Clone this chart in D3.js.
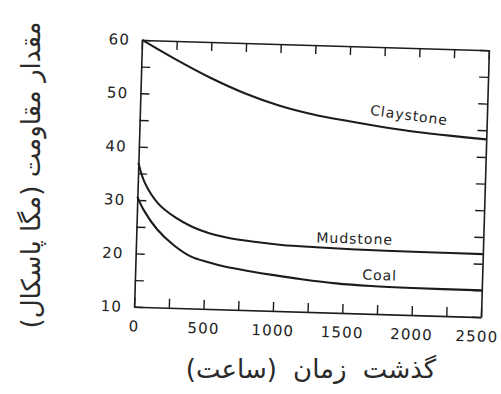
<!DOCTYPE html>
<html>
<head>
<meta charset="utf-8">
<script src="https://cdn.jsdelivr.net/npm/d3@7"></script>
<style>
  body { margin: 0; background: #fff; }
  svg { display: block; }
  .tick text { font-family: "DejaVu Sans"; font-size: 15px; letter-spacing: 1.2px; fill: #222; }
  .curvelabel { font-family: "DejaVu Sans"; font-size: 14px; letter-spacing: 1px; fill: #222; }
  .title { font-family: "DejaVu Sans"; fill: #2a2a2a; }
</style>
</head>
<body>
<div id="chart"></div>
<script>
// hours elapsed vs strength (MPa)
const clayHours = [0, 250, 500, 750, 1000, 1250, 1500, 1750, 2000, 2250, 2500];
const clayMPa   = [60, 56.5, 53.3, 50.6, 48.5, 47.0, 45.95, 45.05, 44.3, 43.75, 43.3];
const mudHours  = [0, 50, 150, 275, 400, 525, 650, 850, 1050, 1300, 1550, 1800, 2100, 2500];
const mudMPa    = [37, 33.3, 29.5, 27.0, 25.3, 24.2, 23.5, 22.85, 22.4, 22.15, 21.97, 21.9, 21.85, 21.8];
const coalHours = [0, 50, 150, 275, 400, 525, 650, 825, 1000, 1200, 1450, 1700, 2000, 2500];
const coalMPa   = [30.6, 28.1, 24.6, 21.7, 19.7, 18.75, 18.0, 17.3, 16.7, 16.1, 15.5, 15.2, 15.05, 15.0];

const xTicks = [0, 250, 500, 750, 1000, 1250, 1500, 1750, 2000, 2250, 2500];
const xLabels = [0, 500, 1000, 1500, 2000, 2500];
const yTicks = [10, 15, 20, 25, 30, 35, 40, 45, 50, 55, 60];
const yLabels = [10, 20, 30, 40, 50, 60];

const curveNames = ["Claystone", "Mudstone", "Coal"];
const labelHours = [1940, 1574, 1762];
const labelMPa = [47.4, 24.0, 17.3];

const yTitle = "مقدار مقاومت (مگا پاسکال)";
const xTitle = "گذشت زمان (ساعت)";

let width = 501, height = 394;
let plotLeft = 138, plotRight = 485, plotTop = 45, plotBottom = 312;
let cx = (plotLeft + plotRight) / 2, cy = (plotTop + plotBottom) / 2;

let svg = d3.select("#chart")
    .append("svg")
    .attr("width", width)
    .attr("height", height);

let x = d3.scaleLinear().domain([0, 2500]).range([plotLeft, plotRight]);
let y = d3.scaleLinear().domain([10, 60]).range([plotBottom, plotTop]);

// the scan is a little tilted, so the plot is too
let g = svg.append("g").attr("transform", "rotate(1.7," + cx + "," + cy + ")");

let ink = "#1c1c1c";

g.append("g")
    .attr("transform", "translate(0," + plotBottom + ")")
    .call(d3.axisBottom(x).tickValues(xTicks).tickSize(-9).tickSizeOuter(0).tickPadding(14)
      .tickFormat(function(d){ return xLabels.indexOf(d) >= 0 ? d : ""; }))
  .selectAll(".tick text")
    .attr("dx", function(d){ return d == 2500 ? -4 : 0; });

g.append("g")
    .attr("transform", "translate(0," + plotTop + ")")
    .call(d3.axisTop(x).tickValues(xTicks).tickSize(-9).tickSizeOuter(0).tickFormat(""));

g.append("g")
    .attr("transform", "translate(" + plotLeft + ",0)")
    .call(d3.axisLeft(y).tickValues(yTicks).tickSize(-9).tickSizeOuter(0).tickPadding(12)
      .tickFormat(function(d){ return yLabels.indexOf(d) >= 0 ? d : ""; }));

g.append("g")
    .attr("transform", "translate(" + plotRight + ",0)")
    .call(d3.axisRight(y).tickValues(yTicks).tickSize(-9).tickSizeOuter(0).tickFormat(""));

g.selectAll(".domain").attr("stroke", ink).attr("stroke-width", 1.6);
g.selectAll(".tick line").attr("stroke", ink).attr("stroke-width", 1.4);

let line = d3.line()
    .x(function(d){ return x(d[0]); })
    .y(function(d){ return y(d[1]); })
    .curve(d3.curveCatmullRom.alpha(0.5));

let series = [
  d3.zip(clayHours, clayMPa),
  d3.zip(mudHours, mudMPa),
  d3.zip(coalHours, coalMPa)
];

g.selectAll(".curve")
    .data(series)
  .enter().append("path")
    .attr("class", "curve")
    .attr("d", line)
    .attr("fill", "none")
    .attr("stroke", ink)
    .attr("stroke-width", 2.1);

g.selectAll(".curvelabel")
    .data(curveNames)
  .enter().append("text")
    .attr("class", "curvelabel")
    .attr("text-anchor", "middle")
    .attr("dominant-baseline", "central")
    .attr("transform", function(d, i){
      let tilt = i == 0 ? 6 : 0;
      return "translate(" + x(labelHours[i]) + "," + y(labelMPa[i]) + ") rotate(" + tilt + ")";
    })
    .text(function(d){ return d; });

svg.append("text")
    .attr("class", "title")
    .attr("text-anchor", "middle")
    .attr("dominant-baseline", "central")
    .attr("font-size", 26)
    .attr("transform", "translate(31,175) rotate(-90)")
    .text(yTitle);

svg.append("text")
    .attr("class", "title")
    .attr("text-anchor", "middle")
    .attr("dominant-baseline", "central")
    .attr("font-size", 26)
    .attr("word-spacing", 8)
    .attr("x", 311)
    .attr("y", 369)
    .text(xTitle);
</script>
</body>
</html>
